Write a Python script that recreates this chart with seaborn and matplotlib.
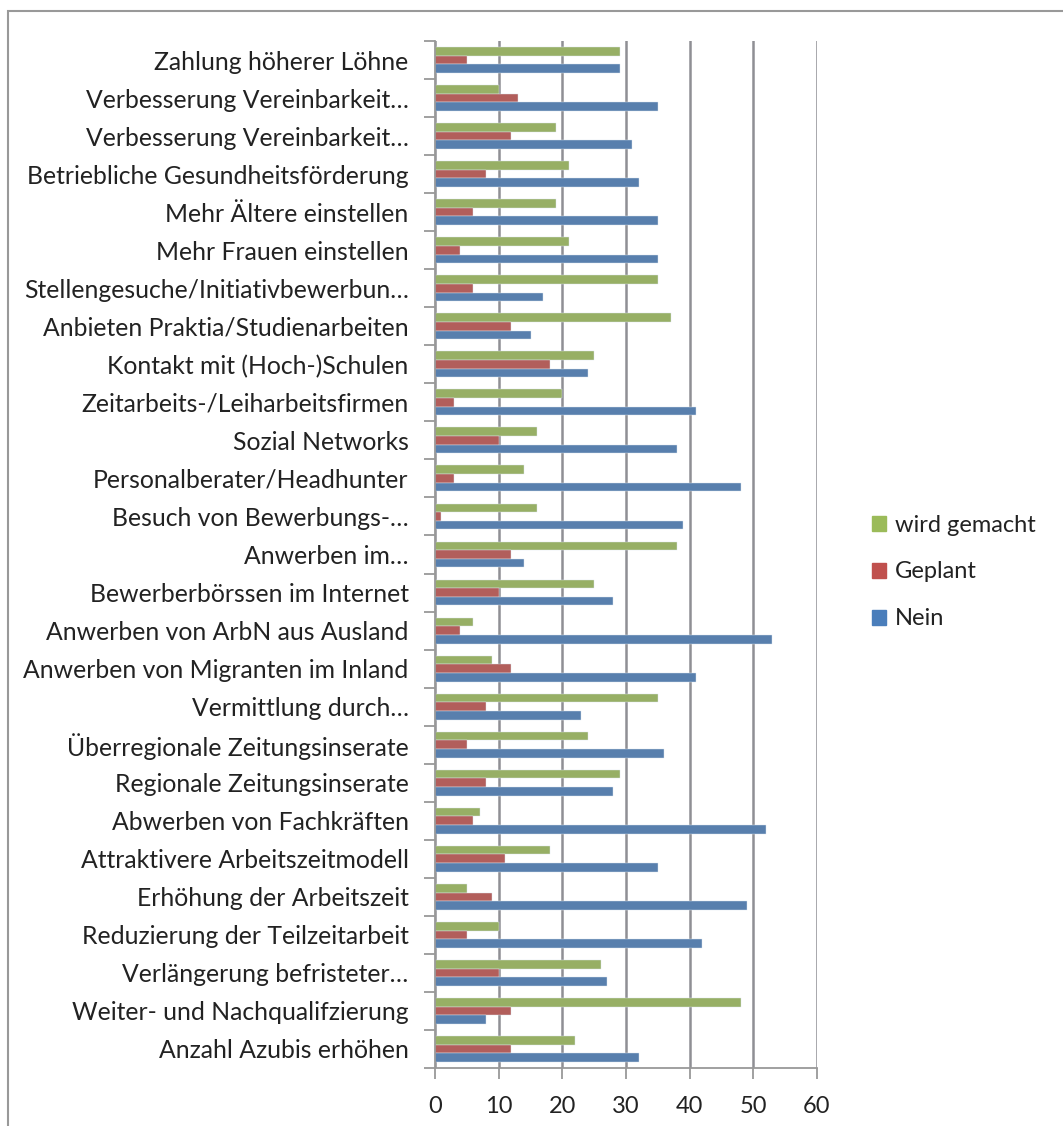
import numpy as np
import pandas as pd
import seaborn as sns
from matplotlib import pyplot as plt
from matplotlib.patches import Rectangle

categories = [
    'Zahlung höherer Löhne',
    'Verbesserung Vereinbarkeit…',
    'Verbesserung Vereinbarkeit…',
    'Betriebliche Gesundheitsförderung',
    'Mehr Ältere einstellen',
    'Mehr Frauen einstellen',
    'Stellengesuche/Initiativbewerbun…',
    'Anbieten Praktia/Studienarbeiten',
    'Kontakt mit (Hoch-)Schulen',
    'Zeitarbeits-/Leiharbeitsfirmen',
    'Sozial Networks',
    'Personalberater/Headhunter',
    'Besuch von Bewerbungs-…',
    'Anwerben im…',
    'Bewerberbörssen im Internet',
    'Anwerben von ArbN aus Ausland',
    'Anwerben von Migranten im Inland',
    'Vermittlung durch…',
    'Überregionale Zeitungsinserate',
    'Regionale Zeitungsinserate',
    'Abwerben von Fachkräften',
    'Attraktivere Arbeitszeitmodell',
    'Erhöhung der Arbeitszeit',
    'Reduzierung der Teilzeitarbeit',
    'Verlängerung befristeter…',
    'Weiter- und Nachqualifzierung',
    'Anzahl Azubis erhöhen',
]
wird_gemacht = [29, 10, 19, 21, 19, 21, 35, 37, 25, 20, 16, 14, 16, 38, 25, 6, 9, 35, 24, 29, 7, 18, 5, 10, 26, 48, 22]
geplant = [5, 13, 12, 8, 6, 4, 6, 12, 18, 3, 10, 3, 1, 12, 10, 4, 12, 8, 5, 8, 6, 11, 9, 5, 10, 12, 12]
nein = [29, 35, 31, 32, 35, 35, 17, 15, 24, 41, 38, 48, 39, 14, 28, 53, 41, 23, 36, 28, 52, 35, 49, 42, 27, 8, 32]

series = ['wird gemacht', 'Geplant', 'Nein']
colors = ['#9BBB59', '#C0504D', '#4A7EBB']

# unique keys so the two identical truncated labels stay separate rows
keys = [f'{i:02d}' for i in range(len(categories))]
df = pd.DataFrame({'key': keys * 3,
                   'value': wird_gemacht + geplant + nein,
                   'serie': np.repeat(series, len(keys))})

plt.rcParams['font.family'] = ['Lato', 'DejaVu Sans']
fs = 17.8
fig = plt.figure(figsize=(10.63, 11.26), dpi=100)
ax = fig.add_axes([435/1063, 58/1126, 382/1063, 1027/1126])

sns.barplot(data=df, x='value', y='key', hue='serie', hue_order=series,
            palette=colors, order=keys, orient='h', width=0.68,
            edgecolor='#dde6f0', linewidth=0.3, ax=ax, legend=False)

ax.set_xlim(0, 60)
ax.set_ylim(len(keys) - 0.5, -0.5)
ax.set_xticks(range(0, 61, 10))
ax.set_yticks(range(len(keys)))
ax.set_yticklabels(categories)
ax.set_yticks(np.arange(-0.5, len(keys), 1), minor=True)
ax.tick_params(axis='y', which='major', length=0, pad=19, labelsize=fs, labelcolor='#222222')
ax.tick_params(axis='y', which='minor', length=8, width=1.3, color='#999999')
ax.tick_params(axis='x', length=8, width=1.3, color='#999999', labelsize=17,
               labelcolor='#222222', pad=12)
ax.set_xlabel('')
ax.set_ylabel('')
ax.grid(axis='x', color='#8f8f94', linewidth=1.8)
ax.set_axisbelow(True)
for s in ['top', 'right']:
    ax.spines[s].set_visible(False)
for s in ['left', 'bottom']:
    ax.spines[s].set_color('#999999')
    ax.spines[s].set_linewidth(1.3)

handles = [Rectangle((0, 0), 1, 1, color=c) for c in colors]
fig.legend(handles, series, loc='center left', bbox_to_anchor=(851/1063, 1 - 572/1126),
           frameon=False, fontsize=17, labelspacing=1.1, handlelength=0.6,
           handleheight=0.6, handletextpad=0.35, labelcolor='#222222')

fig.add_artist(Rectangle((8/1063, -0.01), 1.1, 1 - 11/1126 + 0.01, transform=fig.transFigure,
                         fill=False, edgecolor='#999999', linewidth=1.5))

fig.savefig('out.png', dpi=100)
